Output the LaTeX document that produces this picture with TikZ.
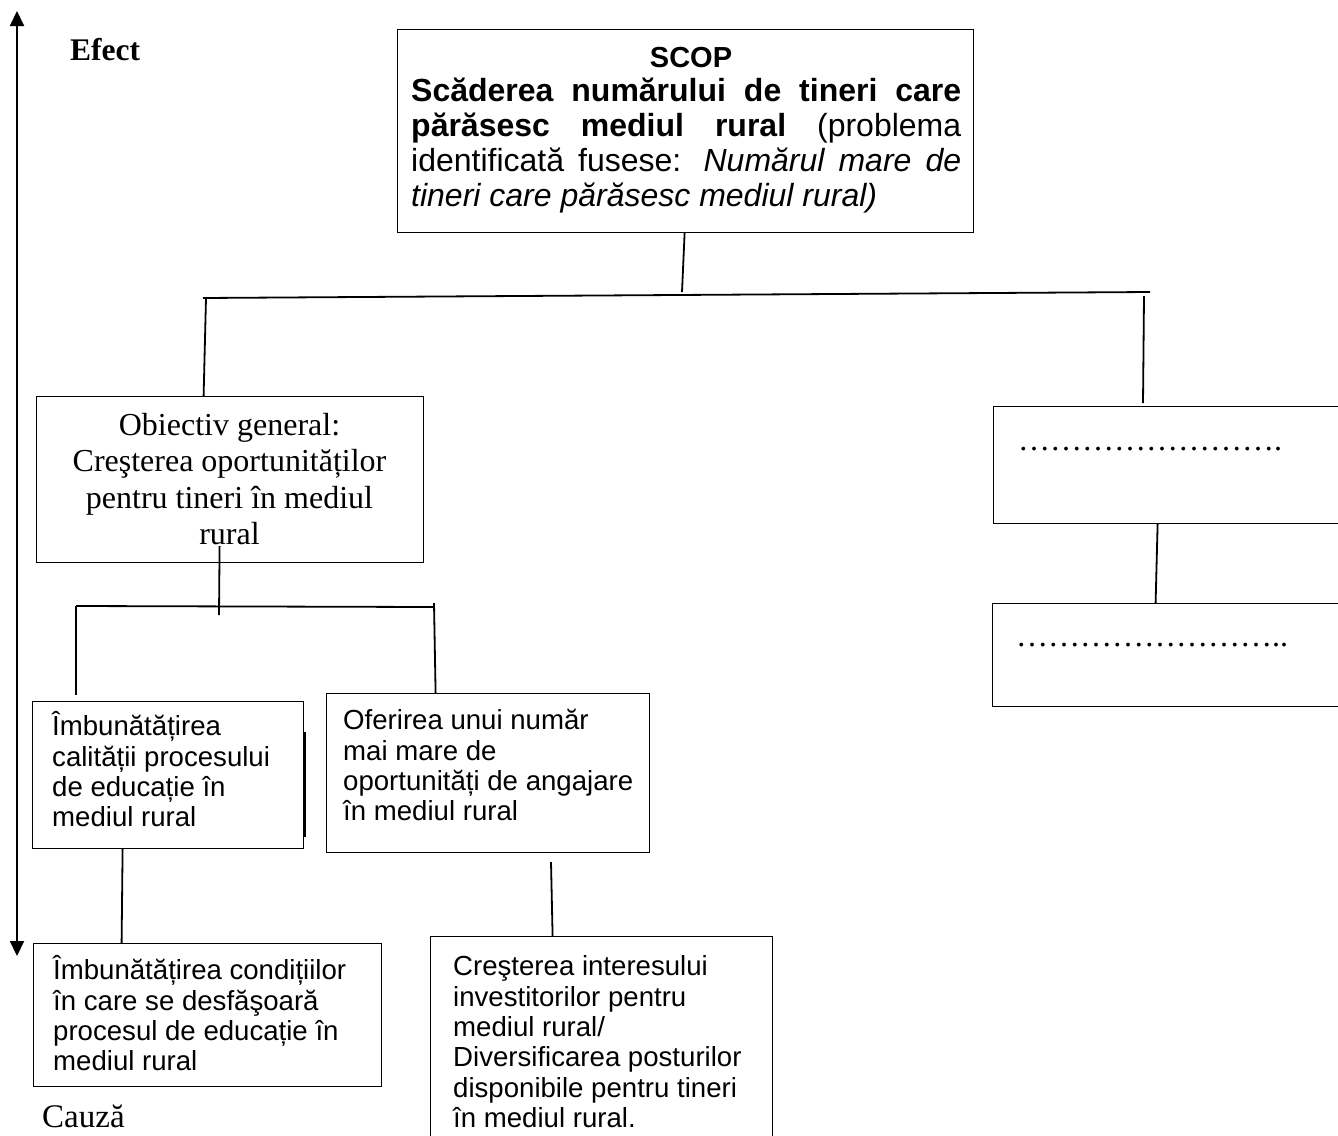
\documentclass[tikz,border=0pt]{standalone}
\usepackage{fontspec}
\setmainfont{Liberation Serif}
\setsansfont{Liberation Sans}
\usetikzlibrary{arrows.meta}
% zero-width strut that fixes the height of a first text line
\newcommand\topstrut{\rule{0pt}{1em}}
% one ellipsis glyph
\newcommand\ellip{…}
\begin{document}
\begin{tikzpicture}[x=1pt,y=-1pt,
  frame/.style={draw, line width=1.2pt, inner sep=0pt, anchor=north west},
  wire/.style={line width=1.8pt},
  sanstext/.style={inner sep=0pt, anchor=north west, align=left,
    font=\sffamily\fontsize{27.6}{30.3}\selectfont},
  seriftext/.style={inner sep=0pt, font=\rmfamily\fontsize{31}{36.5}\selectfont},
]
\fill[white] (0,0) rectangle (1338,1135);
\useasboundingbox (0,0) rectangle (1338,1135);

% effect / cause axis
\coordinate (axtop) at (17,11);
\coordinate (axbot) at (17,956);
\draw[line width=2pt, {Triangle[length=15pt,width=14pt]}-{Triangle[length=15pt,width=14pt]}] (axbot) -- (axtop);
\node[seriftext, anchor=base west, font=\rmfamily\bfseries\fontsize{31.5}{36}\selectfont] (efect) at (70,60) {Efect};
\node[seriftext, anchor=base west, font=\rmfamily\fontsize{33}{36}\selectfont] (cauza) at (42,1127) {Cauză};

% boxes
\node[frame, minimum width=576, minimum height=203] (scop) at (397,29) {};
\node[frame, minimum width=387, minimum height=166] (obj) at (36,396) {};
\node[frame, minimum width=400, minimum height=117] (rb1) at (993,406) {};
\node[frame, minimum width=400, minimum height=103] (rb2) at (992,603) {};
\node[frame, minimum width=271, minimum height=147] (b3) at (32,701) {};
\node[frame, minimum width=323, minimum height=159] (b4) at (326,693) {};
\node[frame, minimum width=348, minimum height=143] (b5) at (33,943) {};
\node[frame, minimum width=342, minimum height=250] (b6) at (430,936) {};

% goal box text
\node[inner sep=0pt, anchor=base, font=\sffamily\bfseries\fontsize{29}{30}\selectfont] (scoptitle) at (691,67) {SCOP};
\node[inner sep=0pt, anchor=north west, font=\sffamily\fontsize{32}{35}\selectfont] (scopbody) at (411,69) {\vbox{\hsize=550pt
  \hbox to \hsize{\topstrut\bfseries Scăderea numărului de tineri care}
  \hbox to \hsize{{\bfseries părăsesc mediul rural} (problema}
  \hbox to \hsize{identificată fusese: {\itshape Numărul mare de}}
  \hbox{\itshape tineri care părăsesc mediul rural)}}};

% general objective
\node[seriftext, anchor=north, align=center, font=\rmfamily\fontsize{32}{36.5}\selectfont] (objtext) at (229.5,403)
  {\topstrut Obiectiv general:\\ Creşterea oportunităților\\ pentru tineri în mediul\\ rural};

% placeholders on the right
\node[seriftext, anchor=base west, font=\rmfamily\fontsize{32}{36}\selectfont] (dots1) at (1018,450)
  {\ellip\ellip\ellip\ellip\ellip\ellip\ellip\ellip.};
\node[seriftext, anchor=base west, font=\rmfamily\fontsize{32}{36}\selectfont] (dots2) at (1016,646)
  {\ellip\ellip\ellip\ellip\ellip\ellip\ellip\ellip..};

% specific objectives and activities
\node[sanstext] (t3) at (52,708) {\topstrut Îmbunătățirea\\ calității procesului\\ de educație în\\ mediul rural};
\node[sanstext] (t4) at (343,702) {\topstrut Oferirea unui număr\\ mai mare de\\ oportunități de angajare\\ în mediul rural};
\node[sanstext] (t5) at (53,952) {\topstrut Îmbunătățirea condițiilor\\ în care se desfăşoară\\ procesul de educație în\\ mediul rural};
\node[sanstext] (t6) at (453,948) {\topstrut Creşterea interesului\\ investitorilor pentru\\ mediul rural/\\ Diversificarea posturilor\\ disponibile pentru tineri\\ în mediul rural.};

% tree connectors
\coordinate (t1) at (682,292);
\draw[wire] ([xshift=-1pt]scop.south) -- (t1);
\coordinate (hl) at (203,298);
\coordinate (hr) at (1150,292);
\draw[wire] (hl) -- (hr);
\coordinate (lt) at (206,298);
\draw[wire] (lt) -- ([xshift=-26.5pt]obj.north);
\coordinate (rt) at (1144,296);
\coordinate (rtb) at (1143,403);
\draw[wire] (rt) -- (rtb);

\coordinate (od) at (219,615);
\draw[wire] ([xshift=-10.5pt,yshift=17pt]obj.south) -- (od);
\coordinate (h2l) at (76,606);
\coordinate (h2r) at (433,607);
\draw[wire] (h2l) -- (h2r);
\coordinate (h2lb) at (76,695);
\draw[wire] (h2l) -- (h2lb);
\coordinate (h2rt) at (434,603);
\draw[wire] (h2rt) -- ([xshift=-52.5pt]b4.north);

\coordinate (b3ea) at (305,732);
\coordinate (b3eb) at (305,837);
\draw[line width=1.6pt] (b3ea) -- (b3eb);

\draw[wire] ([xshift=-45.5pt]b3.south) -- ([xshift=-86pt]b5.north);
\coordinate (b4d) at (551,862);
\draw[wire] (b4d) -- ([xshift=-49pt]b6.north);
\draw[wire] ([xshift=-36pt]rb1.south) -- ([xshift=-37pt]rb2.north);
\end{tikzpicture}
\end{document}
